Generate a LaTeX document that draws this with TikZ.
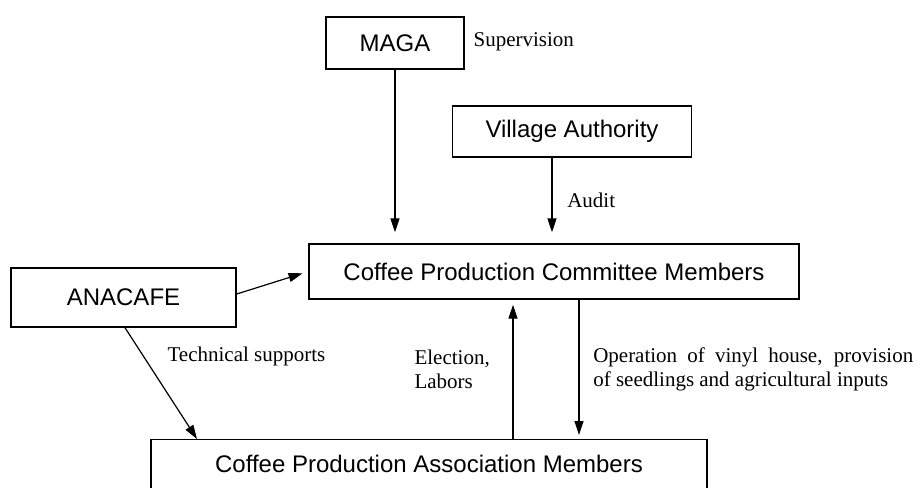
\documentclass[tikz,border=0pt]{standalone}
\usepackage{fontspec}
\setmainfont{Liberation Serif}
\setsansfont{Liberation Sans}
\usetikzlibrary{arrows.meta,positioning}

\begin{document}
\begin{tikzpicture}[x=0.5pt, y=-0.5pt, line width=0.6pt,
        >={Triangle[length=7pt,width=4.5pt]},
        box/.style={draw, line width=0.7pt, inner sep=0pt,
            font=\sffamily\fontsize{12}{14}\selectfont},
        lbl/.style={font=\fontsize{10.5}{12}\selectfont}]
        \useasboundingbox (0,0) rectangle (918,488);

        \node[box, minimum width=69pt, minimum height=26pt] (maga) at (395,43) {MAGA};
        \node[box, minimum width=119.5pt, minimum height=25.5pt] (village) at (572,131.5) {Village Authority};
        \node[box, minimum width=245pt, minimum height=27.5pt] (committee) at (554,271.5) {Coffee Production Committee Members};
        \node[box, minimum width=112.5pt, minimum height=29.5pt] (anacafe) at (123.5,297.5) {ANACAFE};
        \node[box, anchor=north, minimum width=278pt, minimum height=30pt,
            text height=8.6pt, text depth=6pt] (assoc) at (429,439) {Coffee Production Association Members};

        \node[lbl, anchor=west, inner sep=0pt] (supv) at (473,42) {Supervision};
        \node[lbl, anchor=west, inner sep=0pt] (tech) at (167,356) {Technical supports};

        \coordinate (va) at ([xshift=-10pt]village.south);
        \coordinate (ts) at ([xshift=-116pt]assoc.north);
        \coordinate (up) at ([xshift=-20.5pt]committee.south);
        \coordinate (dn) at ([xshift=12.5pt]committee.south);

        \draw[->, shorten >=5.5pt] (maga.south) -- (maga.south |- committee.north);
        \draw[->, shorten >=5.5pt] (va) -- (va |- committee.north) node[midway, right=4pt, lbl] {Audit};
        \draw[->, shorten >=3pt] ([yshift=1.75pt]anacafe.east) -- (committee.west);
        \draw[->] ([xshift=0.75pt]anacafe.south) -- (ts);
        \draw[->, shorten >=2.5pt] (up |- assoc.north) -- (up) node[midway, left=8pt, lbl, align=left] {Election,\\Labors};
        \draw[->, shorten >=2pt] (dn) -- (dn |- assoc.north) node[midway, right=3.5pt, lbl, text width=160pt, align=justify]
            {Operation of vinyl house, provision\linebreak of seedlings and agricultural inputs};
    \end{tikzpicture}
\end{document}
